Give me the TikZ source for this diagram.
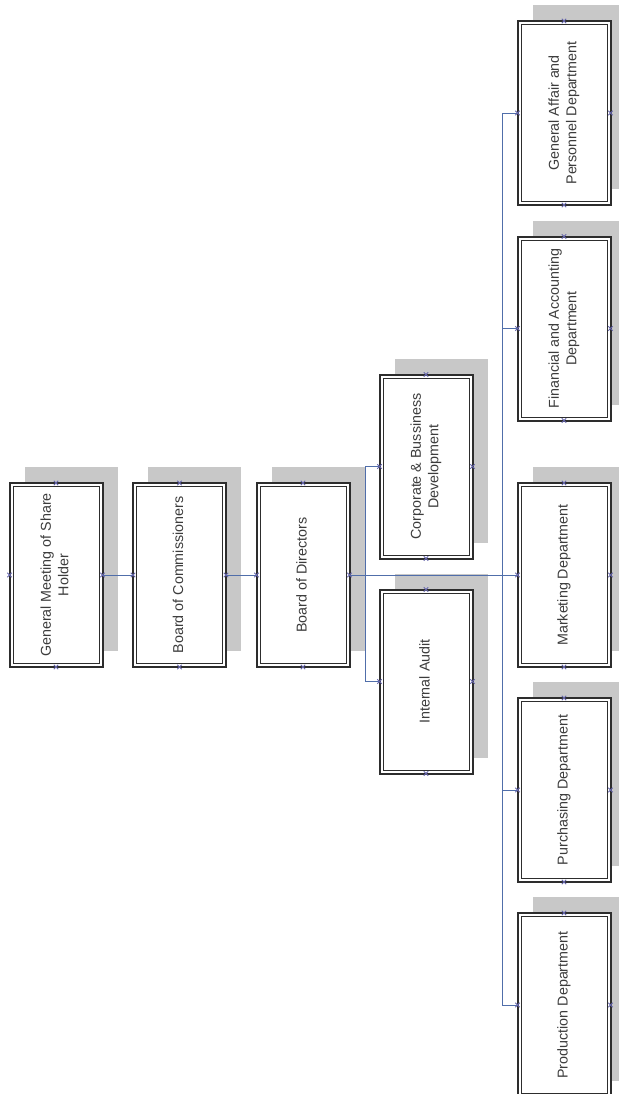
\documentclass[tikz,border=0pt]{standalone}
\usepackage{fontspec}
\setmainfont{Liberation Sans}
\usetikzlibrary{shadows}
\definecolor{shade}{RGB}{200,200,200}
\definecolor{frame}{RGB}{45,45,45}
\definecolor{txt}{RGB}{60,60,60}
\definecolor{conn}{RGB}{80,110,170}
\definecolor{xcol}{RGB}{100,100,170}
\newcommand\rtext[1]{\rotatebox{90}{\begin{tabular}{@{}c@{}}#1\end{tabular}}}
\begin{document}
\begin{tikzpicture}[x=1pt,y=-1pt,
  box/.style={draw=frame, line width=2pt, fill=white, minimum width=93pt,
    minimum height=184pt, inner sep=0pt, outer sep=0pt, text=txt,
    font=\fontsize{14.3}{17.5}\selectfont,
    general shadow={fill=shade, shadow xshift=15pt, shadow yshift=16pt}},
  inner/.style={draw=frame, line width=0.9pt},
  link/.style={draw=conn, line width=0.8pt},
  xmk/.style={draw=xcol, line width=0.9pt}]
\useasboundingbox (0,0) rectangle (618,1094);

% main chain
\node[box] (gm)  at (56,575)    {\rtext{General Meeting of Share\\Holder}};
\node[box] (bc)  at (179.5,575) {\rtext{Board of Commissioners}};
\node[box] (bd)  at (303,575)   {\rtext{Board of Directors}};
% staff units
\node[box] (cbd) at (426,466.5) {\rtext{Corporate \& Bussiness\\Development}};
\node[box] (ia)  at (426,681.5) {\rtext{Internal Audit}};
% departments
\node[box] (ga)  at (564,113)   {\rtext{General Affair and\\Personnel Department}};
\node[box] (fa)  at (564,328.5) {\rtext{Financial and Accounting\\Department}};
\node[box] (mk)  at (564,575)   {\rtext{Marketing Department}};
\node[box] (pu)  at (564,790)   {\rtext{Purchasing Department}};
\node[box] (pd)  at (564,1005)  {\rtext{Production Department}};

% inner frame lines
\foreach \n in {gm,bc,bd,cbd,ia,ga,fa,mk,pu,pd}
  \draw[inner] ([shift={(3.5pt,3.5pt)}]\n.south west) rectangle ([shift={(-3.5pt,-3.5pt)}]\n.north east);

% connectors
\draw[link] (gm.east) -- (bc.west);
\draw[link] (bc.east) -- (bd.west);
\draw[link] (bd.east) -- (mk.west);
\draw[link] (cbd.west) -- ++(-14,0) |- (ia.west);
\draw[link] (ga.west) -- ++(-15,0) |- (pd.west);
\draw[link] (fa.west) -- ++(-15,0);
\draw[link] (pu.west) -- ++(-15,0);

% connection point markers
\foreach \n in {gm,bc,bd,cbd,ia,ga,fa,mk,pu,pd}
  \foreach \a in {north,south,east,west}
    \draw[xmk] ([shift={(-2.2pt,-2.2pt)}]\n.\a) -- ([shift={(2.2pt,2.2pt)}]\n.\a)
               ([shift={(-2.2pt,2.2pt)}]\n.\a) -- ([shift={(2.2pt,-2.2pt)}]\n.\a);
\end{tikzpicture}
\end{document}
